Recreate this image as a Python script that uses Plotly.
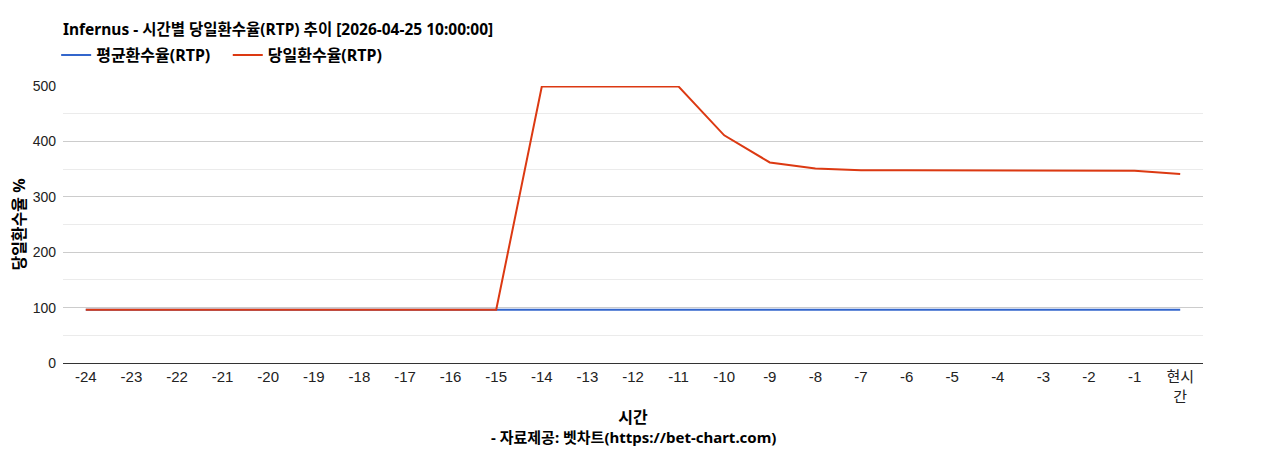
import plotly.graph_objects as go

hours = ["-24", "-23", "-22", "-21", "-20", "-19", "-18", "-17", "-16", "-15",
         "-14", "-13", "-12", "-11", "-10", "-9", "-8", "-7", "-6", "-5",
         "-4", "-3", "-2", "-1", "현시<br>간"]
avg_rtp = [96] * 25
today_rtp = [96, 96, 96, 96, 96, 96, 96, 96, 96, 96,
             499, 499, 499, 499, 411, 362, 351, 348, 348, 348,
             348, 348, 347, 347, 341]

font_main = "Arial, 'Liberation Sans', 'Noto Sans CJK KR', sans-serif"
font_bold = "'Noto Sans', 'Noto Sans CJK KR', sans-serif"

# the page body adds 8px, so figure coords are screen coords minus 8
plot_h = 277

fig = go.Figure()
fig.add_trace(go.Scatter(x=hours, y=avg_rtp, mode="lines",
                         name="<b>평균환수율(RTP)</b>&nbsp;&nbsp;&nbsp;",
                         line=dict(color="#3366cc", width=2)))
fig.add_trace(go.Scatter(x=hours, y=today_rtp, mode="lines", name="<b>당일환수율(RTP)</b>",
                         line=dict(color="#dc3912", width=2)))

fig.update_layout(
    width=1268, height=450,
    margin=dict(l=55, r=73, t=78, b=95, autoexpand=False),
    plot_bgcolor="white", paper_bgcolor="white",
    font=dict(family=font_main, size=13, color="#222"),
    title=dict(text="<b>Infernus - 시간별 당일환수율(RTP) 추이 [2026-04-25 10:00:00]</b>",
               x=55 / 1268, xanchor="left", xref="container", y=1 - 22 / 450, yanchor="middle",
               pad=dict(l=0, r=0, t=0, b=0),
               font=dict(family=font_bold, size=15.5, color="#000")),
    legend=dict(orientation="h", x=-0.006, xanchor="left", y=1 + 31 / plot_h, yanchor="middle",
                font=dict(family=font_bold, size=16, color="#000"), itemwidth=30,
                traceorder="normal"),
    showlegend=True,
)

fig.update_xaxes(
    type="category", range=[-0.5, 24.5], showgrid=False, showline=True,
    linecolor="#333", linewidth=1,
    ticks="", tickfont=dict(size=15, color="#222"),
    title=dict(text="<b>시간</b>", font=dict(family=font_bold, size=16, color="#000"),
               standoff=8),
)
fig.update_yaxes(
    range=[0, 500], dtick=100, showgrid=True, gridcolor="#cccccc", zeroline=False,
    showline=False, tickfont=dict(size=14, color="#222"), ticks="",
    ticklabelstandoff=6,
    minor=dict(dtick=50, showgrid=True, gridcolor="#ebebeb"),
    title=dict(text="<b>당일환수율 %</b>", font=dict(family=font_bold, size=16, color="#000"),
               standoff=16),
)

fig.add_annotation(text="<b>- 자료제공: 벳차트(https://bet-chart.com)</b>",
                   xref="paper", yref="paper", x=0.5, y=-(429 - 355) / plot_h,
                   xanchor="center", yanchor="middle", showarrow=False,
                   font=dict(family=font_bold, size=15, color="#000"))

fig.write_html("out.html")
